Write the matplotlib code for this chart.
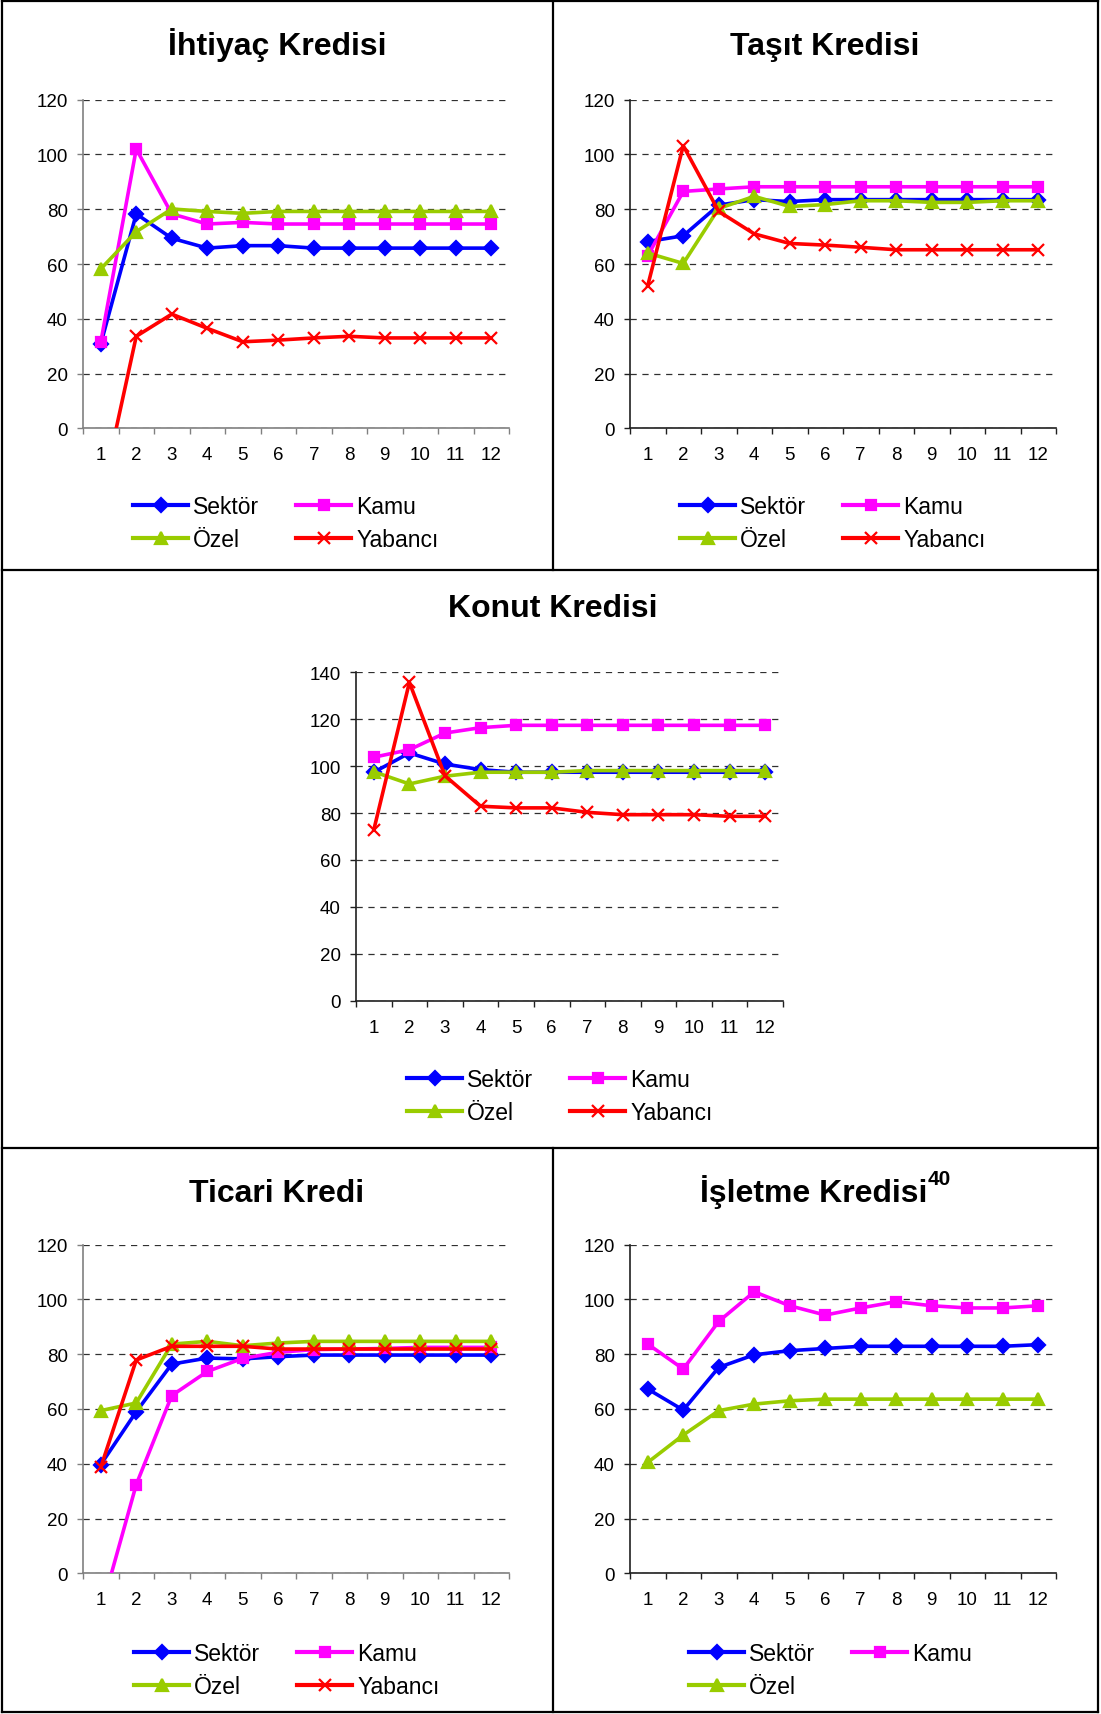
import matplotlib
matplotlib.use("Agg")
import matplotlib.pyplot as plt
from matplotlib.lines import Line2D
import numpy as np

plt.rcParams['font.family'] = ['Liberation Sans', 'DejaVu Sans']

W, H = 1101, 1715
DPI = 100

months = [1, 2, 3, 4, 5, 6, 7, 8, 9, 10, 11, 12]
series_names = ["Sektör", "Kamu", "Özel", "Yabancı"]

# İhtiyaç Kredisi
ihtiyac_sektor = [30.8, 78.3, 69.4, 65.8, 66.7, 66.7, 65.8, 65.8, 65.8, 65.8, 65.8, 65.8]
ihtiyac_kamu = [31.4, 102.0, 78.3, 74.6, 75.2, 74.6, 74.6, 74.6, 74.6, 74.6, 74.6, 74.6]
ihtiyac_ozel = [58.2, 71.8, 80.1, 79.2, 78.5, 79.2, 79.2, 79.2, 79.2, 79.2, 79.2, 79.2]
ihtiyac_yabanci = [-26.0, 33.6, 41.7, 36.5, 31.6, 32.2, 33.0, 33.6, 33.0, 33.0, 33.0, 33.0]

# Taşıt Kredisi
tasit_sektor = [68.2, 70.3, 81.5, 83.5, 82.8, 83.5, 83.5, 83.5, 83.5, 83.5, 83.5, 83.5]
tasit_kamu = [63.0, 86.5, 87.4, 88.2, 88.2, 88.2, 88.2, 88.2, 88.2, 88.2, 88.2, 88.2]
tasit_ozel = [64.0, 60.2, 80.3, 84.7, 81.0, 81.7, 83.1, 83.1, 82.5, 82.5, 83.1, 83.1]
tasit_yabanci = [52.1, 103.2, 79.2, 71.0, 67.5, 66.9, 66.1, 65.2, 65.2, 65.2, 65.2, 65.2]

# Konut Kredisi
konut_sektor = [97.4, 105.6, 100.9, 98.5, 97.4, 97.4, 97.4, 97.4, 97.4, 97.4, 97.4, 97.4]
konut_kamu = [103.8, 107.0, 114.1, 116.4, 117.4, 117.4, 117.4, 117.4, 117.4, 117.4, 117.4, 117.4]
konut_ozel = [97.6, 92.4, 95.7, 97.4, 97.4, 97.4, 98.1, 98.1, 98.1, 98.1, 98.1, 98.1]
konut_yabanci = [72.8, 135.7, 95.9, 82.9, 82.2, 82.2, 80.3, 79.3, 79.3, 79.3, 78.6, 78.6]

# Ticari Kredi
ticari_sektor = [39.7, 59.0, 76.4, 78.6, 78.3, 79.1, 79.7, 79.7, 79.7, 79.7, 79.7, 79.7]
ticari_kamu = [-14.0, 32.4, 64.9, 73.7, 78.5, 80.7, 81.7, 81.9, 82.1, 82.5, 82.5, 82.5]
ticari_ozel = [59.4, 62.2, 83.7, 84.7, 83.1, 84.1, 84.7, 84.7, 84.7, 84.7, 84.7, 84.7]
ticari_yabanci = [38.7, 77.9, 82.9, 82.9, 82.9, 81.9, 81.9, 81.9, 81.9, 81.9, 81.9, 81.9]

# İşletme Kredisi
isletme_sektor = [67.3, 59.6, 75.2, 79.8, 81.3, 82.1, 82.9, 82.9, 82.9, 82.9, 82.9, 83.5]
isletme_kamu = [83.7, 74.6, 92.0, 102.8, 97.7, 94.3, 96.9, 99.2, 97.7, 96.9, 96.9, 97.7]
isletme_ozel = [40.5, 50.5, 59.4, 61.8, 63.0, 63.6, 63.6, 63.6, 63.6, 63.6, 63.6, 63.6]

colors = {"Sektör": "#0000FF", "Kamu": "#FF00FF", "Özel": "#99CC00", "Yabancı": "#FF0000"}
markers = {"Sektör": "D", "Kamu": "s", "Özel": "^", "Yabancı": "x"}
msizes = {"Sektör": 7.5, "Kamu": 7.5, "Özel": 8.5, "Yabancı": 9}

fig = plt.figure(figsize=(W / DPI, H / DPI), dpi=DPI)


def fx(x):
    return x / W


def fy(y):
    return 1 - y / H


def make_axes(left, right, top, bottom, ymax, spine_color):
    ax = fig.add_axes([fx(left), fy(bottom), (right - left) / W, (bottom - top) / H])
    ax.set_xlim(0.5, 12.5)
    ax.set_ylim(0, ymax)
    ax.set_xticks(months)
    ax.set_xticklabels([str(m) for m in months])
    ax.set_xticks(np.arange(0.5, 13.0, 1.0), minor=True)
    ax.set_yticks(np.arange(0, ymax + 1, 20))
    ax.tick_params(axis='x', which='major', length=0, pad=13, labelsize=13.5)
    ax.tick_params(axis='x', which='minor', length=4, width=1, direction='out', color=spine_color)
    ax.tick_params(axis='y', which='major', length=4, width=1, direction='out', pad=7,
                   labelsize=13.5, color=spine_color)
    for s in ['top', 'right']:
        ax.spines[s].set_visible(False)
    ax.spines['left'].set_color(spine_color)
    ax.spines['bottom'].set_color(spine_color)
    ax.spines['left'].set_linewidth(1.2)
    ax.spines['bottom'].set_linewidth(1.2)
    ax.yaxis.grid(True, linestyle=(0, (5, 4.5)), color='#303030', lw=0.9)
    ax.set_axisbelow(True)
    ax.patch.set_alpha(0)
    return ax


def draw_series(ax, data):
    for name, vals in data:
        ax.plot(months, vals, color=colors[name], lw=2.6, marker=markers[name],
                ms=msizes[name], mec=colors[name], mfc=colors[name], mew=1.6,
                clip_on=True, zorder=3)


def add_legend(ax, names, left_px, top_px):
    handles = [Line2D([], [], color=colors[n], lw=3, marker=markers[n], ms=msizes[n],
                      mec=colors[n], mfc=colors[n], mew=1.6) for n in names]
    ax.legend(handles, names, loc='upper left', bbox_to_anchor=(fx(left_px), fy(top_px)),
              bbox_transform=fig.transFigure, ncol=2, frameon=False, borderpad=0,
              borderaxespad=0, fontsize=16.5, handlelength=2.4, handletextpad=0.22,
              columnspacing=1.62, labelspacing=0.42)


def title(x, y, text):
    fig.text(fx(x), fy(y), text, ha='center', va='baseline', fontsize=23, fontweight='bold')


# Panel 1
ax1 = make_axes(83, 509, 100.7, 429.3, 120, '#808080')
draw_series(ax1, [("Sektör", ihtiyac_sektor), ("Kamu", ihtiyac_kamu),
                  ("Özel", ihtiyac_ozel), ("Yabancı", ihtiyac_yabanci)])
add_legend(ax1, ["Sektör", "Özel", "Kamu", "Yabancı"], 133, 496)
title(277, 55, "İhtiyaç Kredisi")

# Panel 2
ax2 = make_axes(630, 1056, 100.7, 429.3, 120, '#202020')
draw_series(ax2, [("Sektör", tasit_sektor), ("Kamu", tasit_kamu),
                  ("Özel", tasit_ozel), ("Yabancı", tasit_yabanci)])
add_legend(ax2, ["Sektör", "Özel", "Kamu", "Yabancı"], 680, 496)
title(825, 55, "Taşıt Kredisi")

# Panel 3
ax3 = make_axes(356, 783, 673.3, 1001.7, 140, '#202020')
draw_series(ax3, [("Sektör", konut_sektor), ("Kamu", konut_kamu),
                  ("Özel", konut_ozel), ("Yabancı", konut_yabanci)])
add_legend(ax3, ["Sektör", "Özel", "Kamu", "Yabancı"], 407, 1069)
title(553, 617.5, "Konut Kredisi")

# Panel 4
ax4 = make_axes(83, 509, 1245.7, 1574.3, 120, '#808080')
draw_series(ax4, [("Sektör", ticari_sektor), ("Kamu", ticari_kamu),
                  ("Özel", ticari_ozel), ("Yabancı", ticari_yabanci)])
add_legend(ax4, ["Sektör", "Özel", "Kamu", "Yabancı"], 134, 1643)
title(277, 1202, "Ticari Kredi")

# Panel 5
ax5 = make_axes(630, 1056, 1245.7, 1574.3, 120, '#202020')
draw_series(ax5, [("Sektör", isletme_sektor), ("Kamu", isletme_kamu),
                  ("Özel", isletme_ozel)])
add_legend(ax5, ["Sektör", "Özel", "Kamu"], 689, 1643)
title(814, 1202, "İşletme Kredisi")
fig.text(fx(928), fy(1170), "40", ha='left', va='top', fontsize=15, fontweight='bold')

# Table borders
blw = 1.6
def hline(y, x0, x1):
    fig.add_artist(Line2D([fx(x0), fx(x1)], [fy(y), fy(y)], color='black', lw=blw,
                          transform=fig.transFigure))

def vline(x, y0, y1):
    fig.add_artist(Line2D([fx(x), fx(x)], [fy(y0), fy(y1)], color='black', lw=blw,
                          transform=fig.transFigure))

hline(2, 2, 1098)
hline(571, 2, 1098)
hline(1149, 2, 1098)
hline(1713, 2, 1098)
vline(2, 2, 1713)
vline(1098, 2, 1713)
vline(553, 2, 571)
vline(553, 1149, 1713)

fig.savefig("out.png", dpi=DPI)
